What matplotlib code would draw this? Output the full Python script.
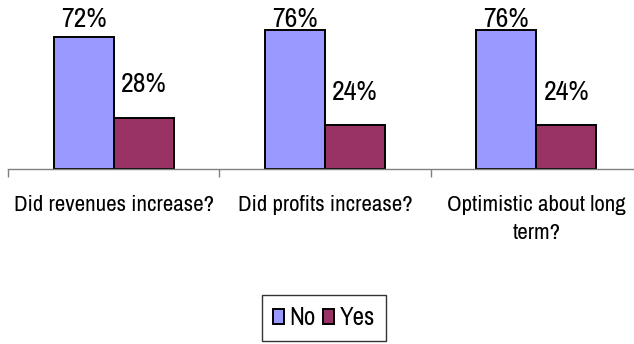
import matplotlib.pyplot as plt
import numpy as np

categories = ['Did revenues increase?', 'Did profits increase?', 'Optimistic about long\nterm?']
no_vals = [72, 76, 76]
yes_vals = [28, 24, 24]
series_names = ['No', 'Yes']

plt.rcParams['font.family'] = ['Archivo Narrow', 'Liberation Sans', 'DejaVu Sans']

fig = plt.figure(figsize=(6.34, 3.44), dpi=100)
# axes top sits above the visible frame, like the cropped original
ax = fig.add_axes([8 / 634, 1 - 169 / 344, 634 / 634, 169 / 344])

x = np.arange(len(categories))
w = 0.284
b1 = ax.bar(x - w / 2, no_vals, w, color='#9999FF', edgecolor='black', linewidth=1.4, label=series_names[0])
b2 = ax.bar(x + w / 2, yes_vals, w, color='#993366', edgecolor='black', linewidth=1.4, label=series_names[1])

# labels sit above the bars but get pushed down near the top of the plot
for bars, vals in [(b1, no_vals), (b2, yes_vals)]:
    for r, v in zip(bars, vals):
        ax.text(r.get_x() + r.get_width() / 2, min(v + 11, 74.5), str(v) + '%',
                ha='center', va='bottom', fontsize=20, clip_on=False)

ax.set_xlim(-0.5, 2.5)
ax.set_ylim(0, 92.1)
for s in ['top', 'right', 'left']:
    ax.spines[s].set_visible(False)
ax.spines['bottom'].set_color('#808080')
ax.spines['bottom'].set_linewidth(1)
ax.set_yticks([])
ax.set_xticks(x)
ax.set_xticklabels(categories, fontsize=16.5, linespacing=1.45)
ax.tick_params(axis='x', which='major', length=0, pad=19)
ax.set_xticks([-0.5, 0.5, 1.5, 2.5], minor=True)
ax.tick_params(axis='x', which='minor', length=6, color='#808080', width=1)

leg = fig.legend(loc='upper center', bbox_to_anchor=(0.511, 1 - 295 / 344), ncol=2,
                 fontsize=18, frameon=True, fancybox=False, edgecolor='black',
                 handlelength=0.45, handleheight=0.55, handletextpad=0.2,
                 columnspacing=0.3, borderpad=0.45, borderaxespad=0)
leg.get_frame().set_linewidth(1)

fig.savefig('out.png', dpi=100)
